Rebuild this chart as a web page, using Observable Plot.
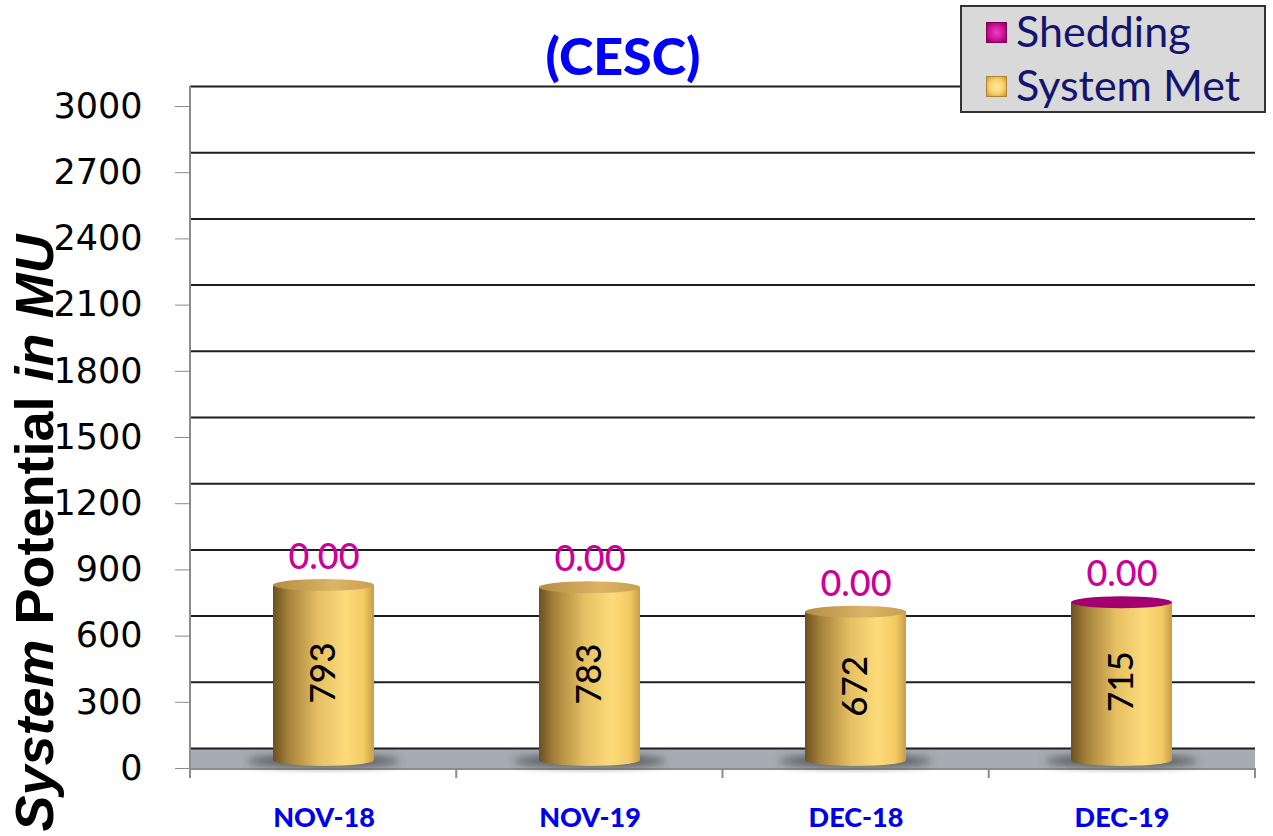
<!DOCTYPE html>
<html>
<head>
<meta charset="utf-8">
<script src="https://cdn.jsdelivr.net/npm/d3@7"></script>
<script src="https://cdn.jsdelivr.net/npm/@observablehq/plot@0.6"></script>
<style>
  body { margin: 0; background: #fff; }
  #wrap { position: relative; width: 1273px; height: 836px; overflow: hidden; background: #fff; }
  #title { position: absolute; left: 523px; width: 200px; top: 29px; text-align: center;
           font-family: Lato, sans-serif; font-weight: 900; font-size: 52px; color: #0000ff; line-height: 1; }
  #legend { position: absolute; left: 960px; top: 5px; width: 306px; height: 108px; box-sizing: border-box;
            background: #d9d9d9; border: 2px solid #333; }
  .item { position: absolute; left: 38px; font-family: Lato, sans-serif; font-size: 43px; color: #14146e; line-height: 1; white-space: nowrap; }
  .sw { position: absolute; width: 21px; height: 21px; left: -14px; top: 13px; box-sizing: border-box; }
  .item span.t { position: relative; left: 16px; }
</style>
</head>
<body>
<div id="wrap">
  <div id="chart"></div>
  <div id="title"></div>
  <div id="legend"></div>
</div>
<script>
// ---- data ----
const months = ["NOV-18", "NOV-19", "DEC-18", "DEC-19"];
const systemMet = [793, 783, 672, 715];
const shedding = [0, 0, 0, 0.001];
const yTicks = [0, 300, 600, 900, 1200, 1500, 1800, 2100, 2400, 2700, 3000];
const legendLabels = ["Shedding", "System Met"];
const titleText = "(CESC)";
const yTitleParts = [["System", true], [" Potential ", false], ["in MU", true]];

// ---- build table ----
const data = months.map((m, i) => ({month: m, met: systemMet[i], shed: shedding[i]}));

// ---- cylinder render (adds 3D caps to bars) ----
function cylinders(index, scales, values, dimensions, context, next) {
  const g = next(index, scales, values, dimensions, context);
  const rects = Array.from(g.querySelectorAll("rect"));
  const ns = "http://www.w3.org/2000/svg";
  const defs = document.createElementNS(ns, "defs");
  defs.innerHTML = `
    <linearGradient id="cyl" x1="0" x2="1" y1="0" y2="0">
      <stop offset="0" stop-color="#6b5020"/>
      <stop offset="0.15" stop-color="#a3813a"/>
      <stop offset="0.45" stop-color="#e6c063"/>
      <stop offset="0.72" stop-color="#fddb7a"/>
      <stop offset="0.9" stop-color="#f2ca62"/>
      <stop offset="1" stop-color="#c89c48"/>
    </linearGradient>
    <linearGradient id="capTan" x1="0" x2="1" y1="0" y2="0">
      <stop offset="0" stop-color="#b48c44"/>
      <stop offset="0.6" stop-color="#dcb466"/>
      <stop offset="1" stop-color="#c9a052"/>
    </linearGradient>
    <filter id="blur" x="-50%" y="-50%" width="200%" height="200%"><feGaussianBlur stdDeviation="4"/></filter>`;
  g.insertBefore(defs, g.firstChild);
  rects.forEach((r, k) => {
    const x = +r.getAttribute("x"), y = +r.getAttribute("y");
    const w = +r.getAttribute("width"), h = +r.getAttribute("height");
    const cx = x + w / 2;
    const i = index[k];
    const sh = document.createElementNS(ns, "ellipse");
    sh.setAttribute("cx", cx); sh.setAttribute("cy", y + h + 1);
    sh.setAttribute("rx", w / 2 + 26); sh.setAttribute("ry", 6);
    sh.setAttribute("fill", "#3a3a3a"); sh.setAttribute("opacity", "0.75");
    sh.setAttribute("filter", "url(#blur)");
    g.insertBefore(sh, defs.nextSibling);
    const bot = document.createElementNS(ns, "ellipse");
    bot.setAttribute("cx", cx); bot.setAttribute("cy", y + h);
    bot.setAttribute("rx", w / 2); bot.setAttribute("ry", 6);
    bot.setAttribute("fill", "url(#cyl)");
    g.insertBefore(bot, r);
    const top = document.createElementNS(ns, "ellipse");
    top.setAttribute("cx", cx); top.setAttribute("cy", y);
    top.setAttribute("rx", w / 2); top.setAttribute("ry", 6);
    top.setAttribute("fill", data[i].shed > 0 ? "#a3006f" : "url(#capTan)");
    g.appendChild(top);
  });
  return g;
}

// ---- axis lines & boundary ticks ----
function axisLines(index, scales, values, dimensions) {
  const {width, marginLeft, marginRight} = dimensions;
  const y0 = scales.y(0), yTop = scales.y(yTicks[yTicks.length - 1]) - 20;
  const g = d3.create("svg:g").attr("stroke", "#8c8c8c").attr("stroke-width", 2);
  g.append("line").attr("x1", marginLeft).attr("x2", marginLeft).attr("y1", yTop).attr("y2", y0 + 2);
  g.append("line").attr("x1", marginLeft).attr("x2", width - marginRight).attr("y1", y0 + 1).attr("y2", y0 + 1);
  const n = months.length;
  for (let k = 0; k <= n; k++) {
    const xx = marginLeft + (width - marginLeft - marginRight) * k / n;
    g.append("line").attr("x1", xx).attr("x2", xx).attr("y1", y0).attr("y2", y0 + 10);
  }
  return g.node();
}

function yTitle() {
  const t = d3.create("svg:text")
    .attr("transform", "translate(53,533) rotate(-90)")
    .attr("text-anchor", "middle")
    .attr("font-family", "'Liberation Sans', Arial, sans-serif")
    .attr("font-weight", "bold")
    .attr("font-size", 54)
    .attr("fill", "#000");
  yTitleParts.forEach(([s, it]) => t.append("tspan").attr("font-style", it ? "italic" : "normal").text(s));
  return t.node();
}

const chart = Plot.plot({
  width: 1273,
  height: 836,
  marginLeft: 190,
  marginRight: 18,
  marginTop: 106,
  marginBottom: 68,
  style: {background: "transparent", overflow: "visible"},
  x: {domain: months, paddingInner: 0.62, paddingOuter: 0.31, axis: null},
  y: {domain: [0, 3000], axis: null},
  marks: [
    Plot.ruleY([0], {dy: -10, stroke: "#a7acb4", strokeWidth: 20}),
    Plot.ruleY(yTicks, {y: d => d, dy: -20, stroke: "#1e1e1e", strokeWidth: 2}),
    axisLines,
    Plot.axisY({ticks: yTicks, tickFormat: d => String(d), tickSize: 15, tickPadding: 33,
      fontSize: 35, fontFamily: "'DejaVu Sans', sans-serif", stroke: "#8c8c8c", fill: "#000", label: null}),
    Plot.axisX({tickSize: 0, tickPadding: 39, fontSize: 27, fontWeight: 900,
      fontFamily: "Lato, sans-serif", fill: "#0000ee", label: null}),
    Plot.barY(data, {x: "month", y: "met", fill: "url(#cyl)", dy: -8, insetLeft: 0, insetRight: 0, render: cylinders}),
    Plot.text(data, {x: "month", y: d => d.met / 2, text: d => String(d.met), rotate: -90, dy: -8,
      fontSize: 35, fontWeight: 500, fontFamily: "Lato, sans-serif", fill: "#000"}),
    Plot.text(data, {x: "month", y: "met", text: d => d.shed.toFixed(2), dy: -36,
      fontSize: 36, fontWeight: 500, fontFamily: "Lato, sans-serif", fill: "#cc0099"}),
    yTitle
  ]
});
document.getElementById("chart").appendChild(chart);

// ---- title & legend ----
document.getElementById("title").textContent = titleText;
const legend = document.getElementById("legend");
const swatchStyles = [
  "background: radial-gradient(circle, #f040c0 0%, #d0109a 55%, #8a005e 100%); border:1px solid #7a0055;",
  "background: radial-gradient(circle, #ffe9a0 0%, #f7cf6a 55%, #c99838 100%); border:1px solid #b08530;"
];
legendLabels.forEach((lab, i) => {
  const it = document.createElement("div");
  it.className = "item";
  it.style.top = (i === 0 ? 2 : 56) + "px";
  it.innerHTML = `<div class="sw" style="${swatchStyles[i]}"></div><span class="t"></span>`;
  it.querySelector(".t").textContent = lab;
  legend.appendChild(it);
});
</script>
</body>
</html>
